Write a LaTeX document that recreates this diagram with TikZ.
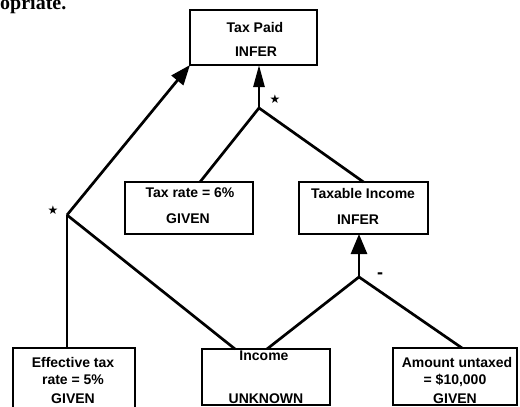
\documentclass[tikz,border=0pt]{standalone}
\usepackage{fontspec}
\setmainfont{Liberation Sans}
\newfontfamily\seriffont{Liberation Serif}
\newfontfamily\symfont{DejaVu Sans}
\usetikzlibrary{arrows.meta}
\begin{document}
\begin{tikzpicture}[x=1pt,y=-1pt,
  box/.style={draw, line width=1.7pt, inner sep=0pt, outer sep=0pt},
  lbl/.style={font=\fontsize{14}{14}\selectfont\bfseries, inner sep=0pt},
  conn/.style={line width=2.7pt},
  opmark/.style={font=\symfont\fontsize{12}{12}\selectfont, inner sep=0pt}]
\useasboundingbox[fill=white] (0,0) rectangle (520,407);

% cut-off text fragment from the page above
\node[anchor=base west, font=\seriffont\fontsize{20}{20}\selectfont\bfseries, inner sep=0pt] (frag) at (0,9) {opriate.};

% boxes
\node[box, minimum width=127pt, minimum height=55pt] (tp) at (253.5,37.5) {};
\node[box, minimum width=128pt, minimum height=52pt] (tr) at (189,208) {};
\node[box, minimum width=129pt, minimum height=52pt] (ti) at (363.5,208) {};
\node[box, minimum width=122pt, minimum height=62pt] (eff) at (74,379) {};
\node[box, minimum width=128pt, minimum height=56pt] (inc) at (266,377) {};
\node[box, minimum width=124pt, minimum height=57pt] (amt) at (455,376.5) {};

% labels
\node[lbl] (tp1) at (255,27) {Tax Paid};
\node[lbl] (tp2) at (256,52) {INFER};
\node[lbl] (tr1) at (190,193) {Tax rate = 6\%};
\node[lbl] (tr2) at (188,219) {GIVEN};
\node[lbl] (ti1) at (363,193) {Taxable Income};
\node[lbl] (ti2) at (358,220) {INFER};
\node[lbl] (ef1) at (73,362) {Effective tax};
\node[lbl] (ef2) at (73,380) {rate = 5\%};
\node[lbl] (ef3) at (73,399) {GIVEN};
\node[lbl] (in1) at (264,356) {Income};
\node[lbl] (in2) at (266,399) {UNKNOWN};
\node[lbl] (am1) at (457,362) {Amount untaxed};
\node[lbl] (am2) at (455,380) {= \$10,000};
\node[lbl] (am3) at (455,399) {GIVEN};

% junctions
\coordinate (jL) at (67,215);
\coordinate (jT) at (259,108);
\coordinate (jB) at (359,277);

% connectors
\draw[conn, -{Triangle[length=20pt,width=15pt]}] (jL) -- (tp.south west);
\draw[conn] (jL) -- (jL |- eff.north);
\draw[conn] (jL) -- ([xshift=33pt]inc.north west);
\draw[conn] ([xshift=65pt]inc.north west) -- (jB) -- ([xshift=7pt]amt.north);
\draw[conn, -{Triangle[length=20pt,width=16pt]}] (jB) -- (jB |- ti.south);
\draw[conn, -{Triangle[length=22pt,width=11pt]}] (jT) -- (jT |- tp.south);
\draw[conn] ([xshift=11pt]tr.north) -- (jT) -- (ti.north);

% operator marks
\node[opmark] (s1) at (275,99) {★};
\node[opmark] (s2) at (53,210) {★};
\node[lbl, font=\fontsize{18}{18}\selectfont\bfseries] (m1) at (380,276) {-};
\end{tikzpicture}
\end{document}
